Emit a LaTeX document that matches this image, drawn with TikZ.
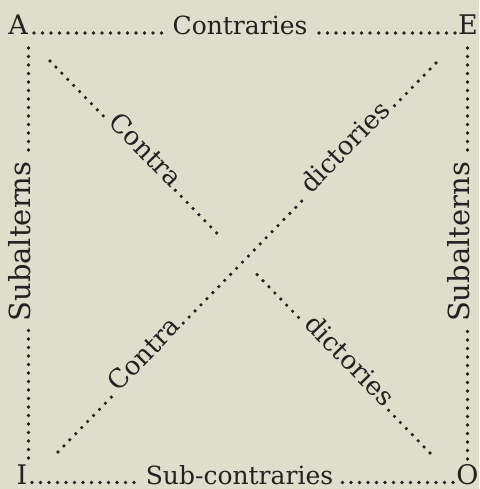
\documentclass[tikz,border=0pt]{standalone}
\usepackage{fontspec}
\setmainfont{DejaVu Serif}
\usetikzlibrary{calc}
\definecolor{paper}{HTML}{DFDDCC}
\definecolor{ink}{HTML}{222222}
\newcommand\dropt[1]{\raisebox{-2pt}{#1}}
\begin{document}
\begin{tikzpicture}[x=1pt,y=-1pt,
  dots/.style={ink, line width=3.6pt, line cap=round, dash pattern=on 0pt off 8.5pt},
  corner/.style={ink, inner sep=0pt, anchor=base, font=\fontsize{27}{30}\selectfont},
  lbl/.style={ink, inner sep=0pt, anchor=base, font=\fontsize{25}{28}\selectfont},
  vlbl/.style={lbl, rotate=90, font=\fontsize{29}{32}\selectfont},
  dlbl/.style={lbl, sloped, font=\fontsize{26}{29}\selectfont},
]
\fill[paper] (0,0) rectangle (479,489);
\useasboundingbox (0,0) rectangle (479,489);

% corners
\node[corner] (A) at (18,35) {A};
\node[corner] (E) at (468,35) {E};
\node[corner] (I) at (22,484.5) {I};
\node[corner] (O) at (467.5,484.5) {O};

% line ends
\coordinate (tA) at (34,33);   \coordinate (tE) at (455,33);
\coordinate (bI) at (32,482.5);  \coordinate (bO) at (453,482.5);
\coordinate (lA) at (28.5,48); \coordinate (lI) at (28.5,458);
\coordinate (rE) at (467.5,48); \coordinate (rO) at (467.5,459);
\coordinate (aoS) at (50,61);  \coordinate (aoE) at (430,453);
\coordinate (ieS) at (58,452); \coordinate (ieE) at (436,63);
\coordinate (g1) at ($(aoS)!0.447!(aoE)$);
\coordinate (g2) at ($(aoS)!0.545!(aoE)$);

% labels
\node[lbl] (con) at (240,33) {\dropt{Contraries}};
\node[lbl] (sub) at (239.5,482.5) {\dropt{Sub-contraries}};
\node[vlbl] (saL) at (28.5,241.5) {\dropt{Subalterns}};
\node[vlbl] (saR) at (467.5,242) {\dropt{Subalterns}};
\path (aoS) -- (aoE)
  node[dlbl, pos=0.239] (c1) {\dropt{Contra}}
  node[dlbl, pos=0.776] (d1) {\dropt{dictories}};
\path (ieS) -- (ieE)
  node[dlbl, pos=0.24] (c2) {\dropt{Contra}}
  node[dlbl, pos=0.772] (d2) {\dropt{dictories}};

% connectors
\draw[dots, shorten >=4pt] (tA) -- (con.base west);
\draw[dots, shorten >=4pt] (tE) -- (con.base east);
\draw[dots, shorten >=4pt] (bI) -- (sub.base west);
\draw[dots, shorten >=4pt] (bO) -- (sub.base east);
\draw[dots, shorten >=4pt] (lA) -- (saL.base east);
\draw[dots, shorten >=4pt] (lI) -- (saL.base west);
\draw[dots, shorten >=4pt] (rE) -- (saR.base east);
\draw[dots, shorten >=4pt] (rO) -- (saR.base west);
\draw[dots, shorten >=4pt] (aoS) -- (c1.base west);
\draw[dots, shorten <=4pt] (c1.base east) -- (g1);
\draw[dots, shorten >=4pt] (g2) -- (d1.base west);
\draw[dots, shorten >=4pt] (aoE) -- (d1.base east);
\draw[dots, shorten >=4pt] (ieS) -- (c2.base west);
\draw[dots, shorten <=4pt, shorten >=4pt] (c2.base east) -- (d2.base west);
\draw[dots, shorten >=4pt] (ieE) -- (d2.base east);
\end{tikzpicture}
\end{document}
